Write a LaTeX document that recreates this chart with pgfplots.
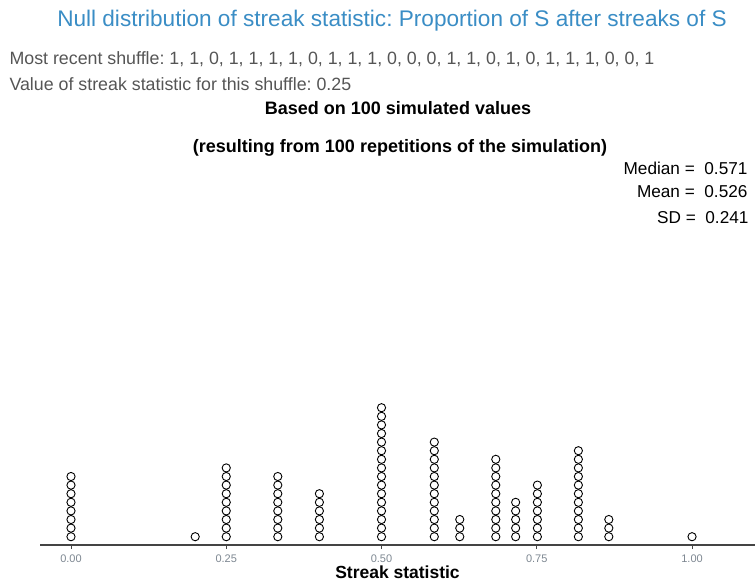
\documentclass[border=0pt]{standalone}
\usepackage{pgfplots}
\pgfplotsset{compat=1.18}
\usepackage{fontspec}
\setmainfont{Liberation Sans}
\definecolor{titleblue}{HTML}{3A8DC5}
\definecolor{txtgray}{HTML}{555555}
\definecolor{axgray}{HTML}{444444}
\definecolor{tickgray}{HTML}{7D8791}
\begin{document}
\frenchspacing
\begin{tikzpicture}[x=1pt,y=1pt]
\path[use as bounding box] (0,0) rectangle (755,582);
\begin{axis}[
  scale only axis,
  width=715pt, height=155pt,
  at={(40pt,37pt)}, anchor=south west,
  xmin=-0.0499, xmax=1.1014,
  ymin=0.035, ymax=18.06,
  axis x line*=bottom, axis y line=none,
  x axis line style={axgray, line width=1.1pt},
  xtick={0,0.25,0.5,0.75,1},
  xticklabels={0.00,0.25,0.50,0.75,1.00},
  tick align=outside, major tick length=4pt,
  x tick style={axgray, line width=0.6pt},
  x tick label style={font=\fontsize{11}{12}\selectfont, color=tickgray, yshift=-2.5pt},
  /pgf/number format/assume math mode=true,
  xlabel={\bfseries Streak statistic},
  xlabel style={font=\fontsize{17.5}{19}\selectfont, inner sep=0pt, yshift=1pt},
  clip=false,
]
\addplot[only marks, mark=o, mark size=4.1pt, mark options={black, fill=white, line width=0.9pt}] coordinates {
(0,1)(0,2)(0,3)(0,4)(0,5)(0,6)(0,7)(0,8)
(0.2,1)
(0.25,1)(0.25,2)(0.25,3)(0.25,4)(0.25,5)(0.25,6)(0.25,7)(0.25,8)(0.25,9)
(0.333,1)(0.333,2)(0.333,3)(0.333,4)(0.333,5)(0.333,6)(0.333,7)(0.333,8)
(0.4,1)(0.4,2)(0.4,3)(0.4,4)(0.4,5)(0.4,6)
(0.5,1)(0.5,2)(0.5,3)(0.5,4)(0.5,5)(0.5,6)(0.5,7)(0.5,8)(0.5,9)(0.5,10)(0.5,11)(0.5,12)(0.5,13)(0.5,14)(0.5,15)(0.5,16)
(0.585,1)(0.585,2)(0.585,3)(0.585,4)(0.585,5)(0.585,6)(0.585,7)(0.585,8)(0.585,9)(0.585,10)(0.585,11)(0.585,12)
(0.626,1)(0.626,2)(0.626,3)
(0.684,1)(0.684,2)(0.684,3)(0.684,4)(0.684,5)(0.684,6)(0.684,7)(0.684,8)(0.684,9)(0.684,10)
(0.716,1)(0.716,2)(0.716,3)(0.716,4)(0.716,5)
(0.751,1)(0.751,2)(0.751,3)(0.751,4)(0.751,5)(0.751,6)(0.751,7)
(0.817,1)(0.817,2)(0.817,3)(0.817,4)(0.817,5)(0.817,6)(0.817,7)(0.817,8)(0.817,9)(0.817,10)(0.817,11)
(0.866,1)(0.866,2)(0.866,3)
(1,1)
};
\end{axis}
\node[font=\fontsize{22.6}{26}\selectfont, text=titleblue] at (392,561) {Null distribution of streak statistic: Proportion of S after streaks of S};
\node[font=\fontsize{17.8}{20}\selectfont, text=txtgray, anchor=west] at (6,523) {Most recent shuffle: 1, 1, 0, 1, 1, 1, 1, 0, 1, 1, 1, 0, 0, 0, 1, 1, 0, 1, 0, 1, 1, 1, 0, 0, 1};
\node[font=\fontsize{17.8}{20}\selectfont, text=txtgray, anchor=west] at (6,498) {Value of streak statistic for this shuffle: 0.25};
\node[font=\bfseries\fontsize{18}{21}\selectfont] at (398,474) {Based on 100 simulated values};
\node[font=\bfseries\fontsize{18}{21}\selectfont] at (400,434) {(resulting from 100 repetitions of the simulation)};
\node[font=\fontsize{17.2}{20}\selectfont, anchor=east] at (751,414) {Median = \ 0.571};
\node[font=\fontsize{17.2}{20}\selectfont, anchor=east] at (751,390) {Mean = \ 0.526};
\node[font=\fontsize{17.2}{20}\selectfont, anchor=east] at (752,364) {SD = \ 0.241};
\end{tikzpicture}
\end{document}
